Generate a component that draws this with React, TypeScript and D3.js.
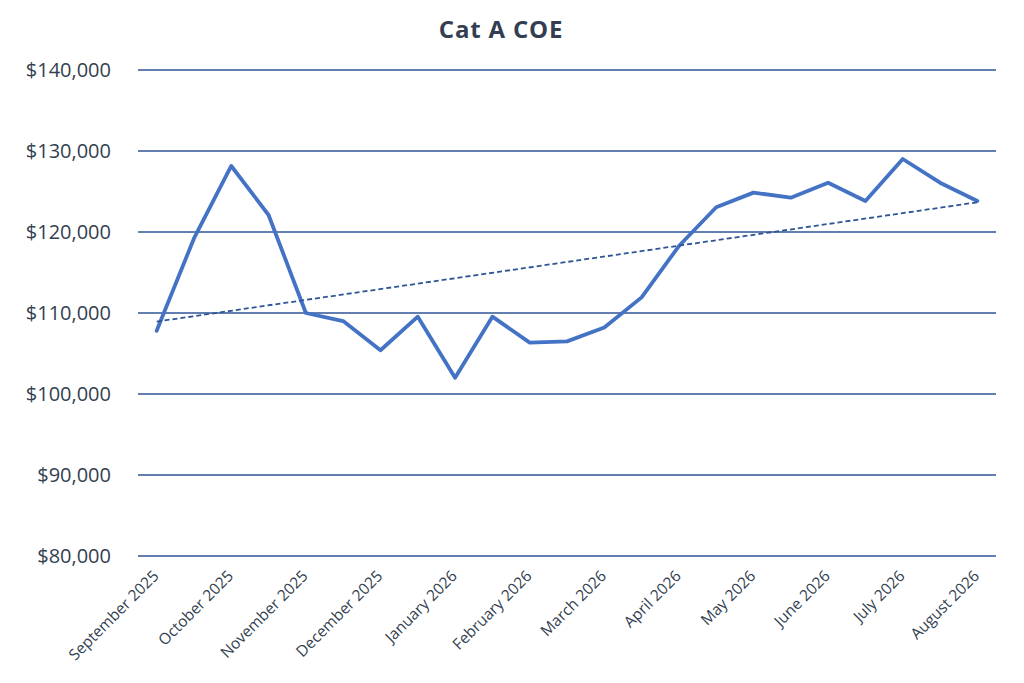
import React from "react";
import * as d3 from "d3";

const monthLabels = [
  "September 2025", "October 2025", "November 2025", "December 2025",
  "January 2026", "February 2026", "March 2026", "April 2026",
  "May 2026", "June 2026", "July 2026", "August 2026",
];

// 23 bidding exercises (two per month), labels shown on every other one
const exerciseLabels = [
  "September 2025", "September 2025 (2)", "October 2025", "October 2025 (2)",
  "November 2025", "November 2025 (2)", "December 2025", "December 2025 (2)",
  "January 2026", "January 2026 (2)", "February 2026", "February 2026 (2)",
  "March 2026", "March 2026 (2)", "April 2026", "April 2026 (2)",
  "May 2026", "May 2026 (2)", "June 2026", "June 2026 (2)",
  "July 2026", "July 2026 (2)", "August 2026",
];

const coeValues = [
  107800, 119200, 128150, 122100, 110000, 109000, 105400, 109550,
  102000, 109550, 106340, 106500, 108200, 111930, 118270, 123050,
  124860, 124240, 126090, 123830, 129010, 126090, 123830,
];

const yTicks = [80000, 90000, 100000, 110000, 120000, 130000, 140000];

const W = 1024;
const H = 683;
const left = 138;
const right = 996;
const top = 70;
const bottom = 556;

export default function App() {
  const x = d3.scaleBand<string>().domain(exerciseLabels).range([left, right]).padding(0);
  const y = d3.scaleLinear().domain([80000, 140000]).range([bottom, top]);
  const cx = (i: number) => (x(exerciseLabels[i]) as number) + x.bandwidth() / 2;

  const line = d3
    .line<number>()
    .x((_, i) => cx(i))
    .y((v) => y(v));

  // linear least-squares trendline
  const n = coeValues.length;
  const xs = d3.range(n);
  const mx = d3.mean(xs) as number;
  const my = d3.mean(coeValues) as number;
  let sxy = 0;
  let sxx = 0;
  xs.forEach((i) => {
    sxy += (i - mx) * (coeValues[i] - my);
    sxx += (i - mx) * (i - mx);
  });
  const slope = sxy / sxx;
  const intercept = my - slope * mx;
  const t0 = intercept;
  const t1 = intercept + slope * (n - 1);

  const fmt = d3.format("$,.0f");
  const font = "'Open Sans', 'Noto Sans', sans-serif";

  return (
    <svg
      width={W}
      height={H}
      style={{ position: "absolute", left: 0, top: 0, background: "#fff" }}
      fontFamily={font}
    >
      <rect x={0} y={0} width={W} height={H} fill="#fff" />
      <text
        x={501}
        y={38}
        textAnchor="middle"
        fontSize={24}
        fontWeight={700}
        letterSpacing={0.8}
        fill="#333F50"
      >
        Cat A COE
      </text>

      {yTicks.map((t) => (
        <g key={t}>
          <line x1={left} x2={right} y1={y(t)} y2={y(t)} stroke="#2F5597" strokeWidth={1.5} />
          <text
            x={111}
            y={y(t)}
            dy="0.36em"
            textAnchor="end"
            fontSize={20}
            fill="#333F50"
          >
            {fmt(t)}
          </text>
        </g>
      ))}

      {monthLabels.map((m, k) => {
        const px = cx(k * 2);
        return (
          <text
            key={m}
            transform={`translate(${px + 3},${577}) rotate(-45)`}
            textAnchor="end"
            fontSize={15.5}
            fill="#333F50"
          >
            {m}
          </text>
        );
      })}

      <path
        d={line(coeValues) as string}
        fill="none"
        stroke="#4472C4"
        strokeWidth={3.8}
        strokeLinejoin="round"
        strokeLinecap="round"
      />
      <line
        x1={cx(0)}
        x2={cx(n - 1)}
        y1={y(t0)}
        y2={y(t1)}
        stroke="#2F5597"
        strokeWidth={1.8}
        strokeDasharray="5 3"
      />
    </svg>
  );
}
